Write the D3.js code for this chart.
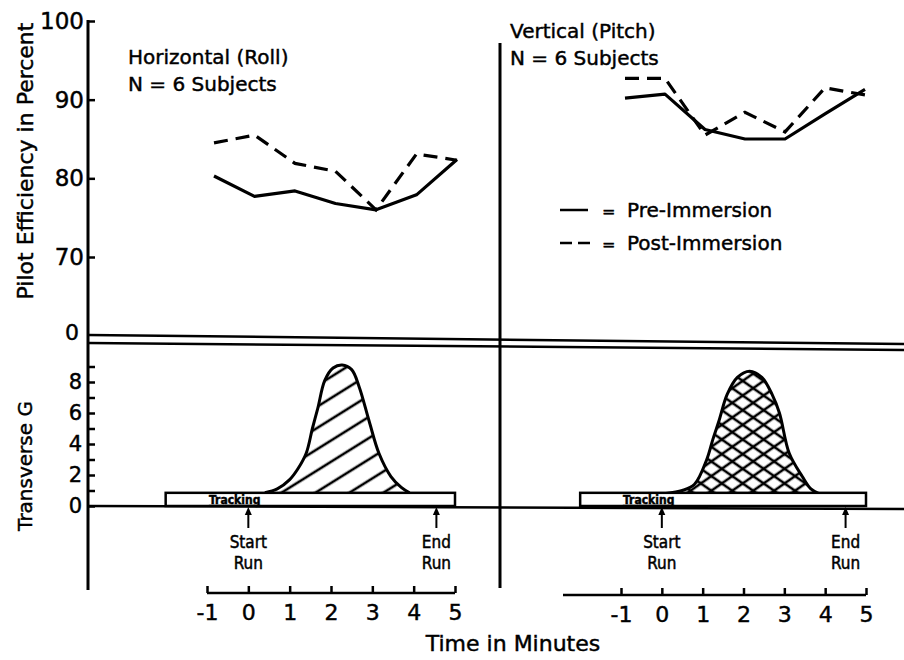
<!DOCTYPE html>
<html>
<head>
<meta charset="utf-8">
<script src="https://cdn.jsdelivr.net/npm/d3@7"></script>
<style>
  body { margin: 0; background: #fff; }
  svg { display: block; }
  text { font-family: "DejaVu Sans", sans-serif; fill: #000; stroke: #000; stroke-width: 0.45px; }
</style>
</head>
<body>
<svg id="chart" width="904" height="660"></svg>
<script>
// values
const minutes = [-1, 0, 1, 2, 3, 4, 5];
const roll_pre   = [80.3, 77.7, 78.4, 76.8, 76.0, 77.9, 82.4];
const roll_post  = [84.5, 85.5, 81.9, 80.9, 76.0, 83.1, 82.3];
const pitch_pre  = [90.2, 90.7, 86.2, 85.0, 85.0, 88.2, 91.3];
const pitch_post = [92.7, 92.7, 85.5, 88.4, 85.9, 91.5, 90.6];

const eff_ticks = [70, 80, 90, 100];
const g_ticks = [0, 1, 2, 3, 4, 5, 6, 7, 8, 9];
const g_labels = [0, 2, 4, 6, 8];

// transverse G profile over the run: minute / G
const roll_g_min = [0.4, 0.7, 1.0, 1.2, 1.4, 1.55, 1.68, 1.85, 2.05, 2.27, 2.5, 2.68, 2.92, 3.16, 3.45, 3.7, 3.9];
const roll_g_val = [0.85, 1.1, 1.7, 2.4, 3.4, 5.0, 6.3, 8.1, 8.9, 9.1, 8.8, 7.7, 5.5, 3.4, 1.9, 1.2, 0.85];
const pitch_g_min = [0.1, 0.5, 0.8, 1.1, 1.25, 1.4, 1.6, 1.85, 2.15, 2.45, 2.7, 2.88, 3.12, 3.44, 3.65, 3.85];
const pitch_g_val = [0.8, 1.0, 1.4, 3.0, 4.3, 5.5, 7.2, 8.3, 8.7, 8.3, 7.2, 6.0, 3.4, 1.9, 1.1, 0.8];

const tracking_span = [-2, 5];
const tracking_g = 0.85;
const run_roll = [0, 4.55];
const run_pitch = [0, 4.5];

const svg = d3.select("#chart");

const y_eff = d3.scaleLinear().domain([70, 100]).range([257, 21]);
const y_g = d3.scaleLinear().domain([0, 8]).range([506, 382]);

// separate x scales for the top traces and the bottom time axis, as in the drawing
const x_roll_top  = d3.scaleLinear().domain([-1, 5]).range([214, 457]);
const x_pitch_top = d3.scaleLinear().domain([-1, 5]).range([625, 865]);
const x_roll  = d3.scaleLinear().domain([-1, 5]).range([207, 455]);
const x_pitch = d3.scaleLinear().domain([-1, 5]).range([621, 866]);

const defs = svg.append("defs");
const hatch = (id, angle, gap) => {
  const p = defs.append("pattern")
    .attr("id", id)
    .attr("patternUnits", "userSpaceOnUse")
    .attr("width", gap).attr("height", gap)
    .attr("patternTransform", `rotate(${angle})`);
  p.append("line")
    .attr("x1", 0).attr("y1", gap / 2).attr("x2", gap).attr("y2", gap / 2)
    .style("stroke", "#000").style("stroke-width", 2.6);
};
hatch("hatch_roll", -32, 18);
hatch("hatch_a", -35, 12);
hatch("hatch_b", 35, 12);

// ---- frame lines ----
svg.append("line")
  .attr("x1", 88).attr("y1", 20).attr("x2", 88).attr("y2", 590)
  .style("stroke", "#000").style("stroke-width", 3);

svg.append("line")
  .attr("x1", 500).attr("y1", 43).attr("x2", 500).attr("y2", 588)
  .style("stroke", "#000").style("stroke-width", 3);

[[335, 344], [343, 350]].forEach((d) => {
  svg.append("line")
    .attr("x1", 88).attr("y1", d[0]).attr("x2", 904).attr("y2", d[1])
    .style("stroke", "#000").style("stroke-width", 2.5);
});

svg.append("line")
  .attr("x1", 88).attr("y1", y_g(0)).attr("x2", 904).attr("y2", y_g(0) + 3)
  .style("stroke", "#000").style("stroke-width", 2.5);

// ---- y axes ----
const style_axis = (g, size) => {
  g.select(".domain").remove();
  g.selectAll(".tick line").style("stroke", "#000").style("stroke-width", 2.5);
  g.selectAll(".tick text")
    .style("font-family", "'DejaVu Sans', sans-serif")
    .style("font-size", size + "px");
};

svg.append("g")
  .attr("transform", "translate(88,0)")
  .call(d3.axisLeft(y_eff).tickValues(eff_ticks).tickSizeInner(-7).tickSizeOuter(0).tickPadding(4))
  .call((g) => style_axis(g, 23));

svg.append("g")
  .attr("transform", "translate(88,0)")
  .call(d3.axisLeft(y_g).tickValues(g_ticks)
    .tickFormat((d) => g_labels.includes(d) ? d : "")
    .tickSizeInner(-7).tickSizeOuter(0).tickPadding(6))
  .call((g) => style_axis(g, 21));

// the broken-axis zero
svg.append("text")
  .attr("x", 72).attr("y", 340)
  .attr("text-anchor", "middle")
  .style("font-size", "22px")
  .text("0");

svg.append("text")
  .attr("transform", "translate(33,161)rotate(-90)")
  .attr("text-anchor", "middle")
  .style("font-size", "22px")
  .text("Pilot Efficiency in Percent");

svg.append("text")
  .attr("transform", "translate(32,466)rotate(-90)")
  .attr("text-anchor", "middle")
  .style("font-size", "20px")
  .text("Transverse G");

// ---- efficiency traces ----
const draw_traces = (x, pre, post) => {
  const line = d3.line()
    .x((d, i) => x(minutes[i]))
    .y((d) => y_eff(d));
  svg.append("path")
    .attr("d", line(pre))
    .style("fill", "none").style("stroke", "#000")
    .style("stroke-width", 3.2).style("stroke-linejoin", "round");
  svg.append("path")
    .attr("d", line(post))
    .style("fill", "none").style("stroke", "#000")
    .style("stroke-width", 3.2).style("stroke-dasharray", "14,8");
};
draw_traces(x_roll_top, roll_pre, roll_post);
draw_traces(x_pitch_top, pitch_pre, pitch_post);

// panel titles
const title = (x, y, lines) => {
  lines.forEach((t, i) => {
    svg.append("text")
      .attr("x", x).attr("y", y + i * 27)
      .style("font-size", "20px")
      .text(t);
  });
};
title(128, 64, ["Horizontal (Roll)", "N = 6 Subjects"]);
title(510, 38, ["Vertical (Pitch)", "N = 6 Subjects"]);

// legend
const legend = svg.append("g");
legend.append("line")
  .attr("x1", 560).attr("x2", 588).attr("y1", 210).attr("y2", 210)
  .style("stroke", "#000").style("stroke-width", 2.5);
legend.append("line")
  .attr("x1", 560).attr("x2", 592).attr("y1", 243).attr("y2", 243)
  .style("stroke", "#000").style("stroke-width", 2.5).style("stroke-dasharray", "12,6");
[["Pre-Immersion", 217], ["Post-Immersion", 250]].forEach((d) => {
  legend.append("text").attr("x", 602).attr("y", d[1]).style("font-size", "16px").text("=");
  legend.append("text").attr("x", 627).attr("y", d[1]).style("font-size", "20px").text(d[0]);
});

// ---- G profiles ----
const draw_profile = (x, mins, vals, fills, run) => {
  const pts = mins.map((m, i) => [m, vals[i]]);
  const area = d3.area()
    .curve(d3.curveCatmullRom.alpha(0.5))
    .x((d) => x(d[0]))
    .y0(y_g(0))
    .y1((d) => y_g(d[1]));
  const outline = d3.line()
    .curve(d3.curveCatmullRom.alpha(0.5))
    .x((d) => x(d[0]))
    .y((d) => y_g(d[1]));

  fills.forEach((f) => {
    svg.append("path").attr("d", area(pts)).style("fill", `url(#${f})`);
  });
  svg.append("path")
    .attr("d", outline(pts))
    .style("fill", "none").style("stroke", "#000").style("stroke-width", 3);

  // tracking bar
  svg.append("rect")
    .attr("x", x(tracking_span[0]))
    .attr("y", y_g(tracking_g))
    .attr("width", x(tracking_span[1]) - x(tracking_span[0]))
    .attr("height", y_g(0) - y_g(tracking_g))
    .style("fill", "#fff").style("stroke", "#000").style("stroke-width", 2.5);

  svg.append("text")
    .attr("x", x(-0.95)).attr("y", y_g(0) - 2)
    .style("font-family", "'DejaVu Sans Condensed', 'DejaVu Sans', sans-serif")
    .style("font-size", "12px").style("font-weight", "bold")
    .attr("text-decoration", "underline")
    .text("Tracking");

  // start / end arrows
  const marks = [[run[0], "Start"], [run[1], "End"]];
  marks.forEach((m) => {
    const cx = x(m[0]);
    svg.append("line")
      .attr("x1", cx).attr("x2", cx).attr("y1", 528).attr("y2", 513)
      .style("stroke", "#000").style("stroke-width", 2);
    svg.append("path")
      .attr("d", `M${cx - 3.5},515L${cx},507L${cx + 3.5},515Z`)
      .style("fill", "#000");
    [m[1], "Run"].forEach((t, i) => {
      svg.append("text")
        .attr("x", cx).attr("y", 548 + i * 21)
        .attr("text-anchor", "middle")
        .style("font-family", "'DejaVu Sans Condensed', 'DejaVu Sans', sans-serif")
        .style("font-size", "17px")
        .text(t);
    });
  });
};
draw_profile(x_roll, roll_g_min, roll_g_val, ["hatch_roll"], run_roll);
draw_profile(x_pitch, pitch_g_min, pitch_g_val, ["hatch_a", "hatch_b"], run_pitch);

// ---- time axes ----
const time_axis = (x, y, left_end) => {
  const g = svg.append("g")
    .attr("transform", `translate(0,${y})`)
    .call(d3.axisBottom(x).tickValues(minutes).tickFormat((d) => d)
      .tickSizeInner(-7).tickSizeOuter(0).tickPadding(11))
    .call((g) => style_axis(g, 22));
  g.append("line")
    .attr("x1", left_end).attr("x2", x(5)).attr("y1", 0).attr("y2", 0)
    .style("stroke", "#000").style("stroke-width", 2.5);
};
time_axis(x_roll, 593, x_roll(-1));
time_axis(x_pitch, 595, 563);

svg.append("text")
  .attr("x", 513).attr("y", 651)
  .attr("text-anchor", "middle")
  .style("font-size", "22px")
  .text("Time in Minutes");
</script>
</body>
</html>
